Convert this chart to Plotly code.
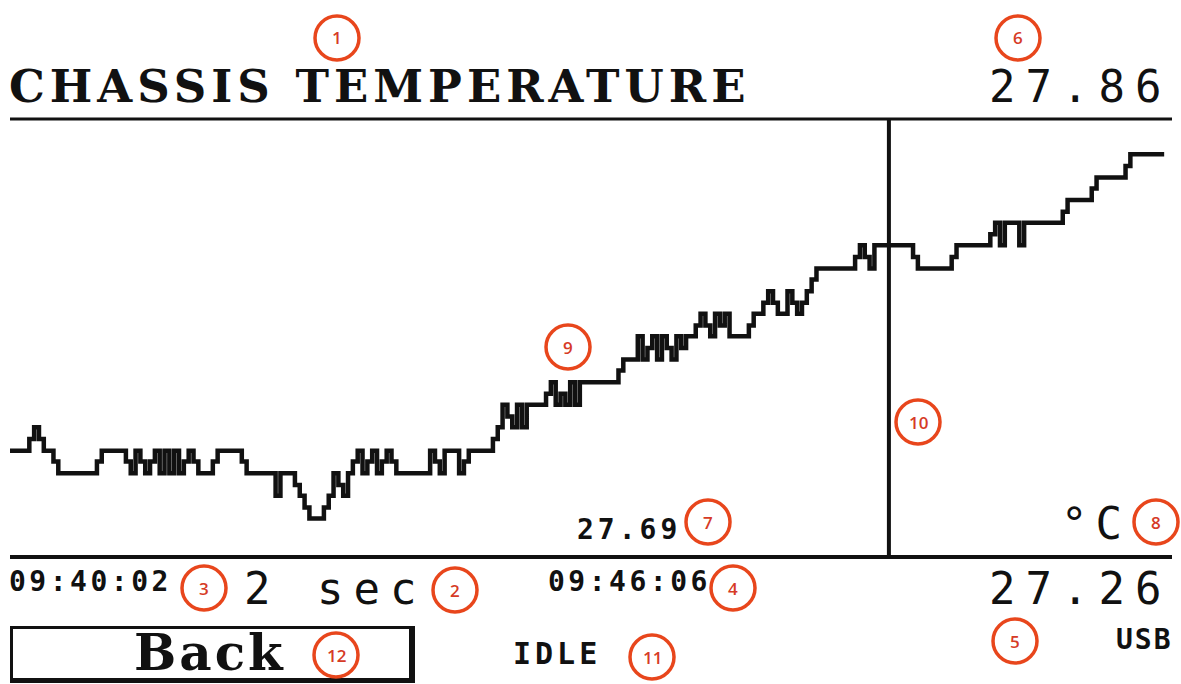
import plotly.graph_objects as go

# ---------------- data ----------------
# change points of the logged temperature (seconds since 09:40:02, sample every 2 s)
elapsed_s = [
    0, 8, 10, 12, 14, 18, 20, 36, 38, 48,
    50, 52, 54, 56, 58, 60, 62, 64, 66, 68,
    70, 72, 74, 76, 78, 84, 86, 96, 98, 110,
    112, 118, 120, 122, 124, 130, 132, 134, 136, 138,
    140, 142, 144, 146, 148, 150, 152, 154, 156, 158,
    160, 174, 176, 178, 180, 186, 188, 190, 200, 202,
    204, 206, 208, 210, 212, 214, 222, 224, 226, 228,
    230, 232, 234, 236, 252, 254, 260, 262, 264, 266,
    268, 270, 272, 274, 276, 278, 280, 284, 286, 288,
    290, 292, 294, 296, 298, 306, 308, 312, 314, 316,
    318, 322, 324, 326, 328, 330, 332, 334, 350, 352,
    354, 356, 358, 374, 376, 390, 392, 406, 408, 410,
    412, 418, 420, 436, 438, 448, 450, 462, 464, 478,
]
temps_c = [
    27.406, 27.422, 27.438, 27.422, 27.406, 27.391, 27.375, 27.391, 27.406, 27.391,
    27.375, 27.406, 27.391, 27.375, 27.391, 27.406, 27.375, 27.406, 27.375, 27.406,
    27.375, 27.391, 27.406, 27.391, 27.375, 27.391, 27.406, 27.391, 27.375, 27.344,
    27.375, 27.359, 27.344, 27.328, 27.313, 27.328, 27.344, 27.375, 27.359, 27.344,
    27.375, 27.391, 27.406, 27.375, 27.391, 27.406, 27.375, 27.391, 27.406, 27.391,
    27.375, 27.406, 27.391, 27.375, 27.406, 27.375, 27.391, 27.406, 27.422, 27.438,
    27.469, 27.453, 27.438, 27.469, 27.438, 27.469, 27.484, 27.500, 27.469, 27.484,
    27.469, 27.500, 27.469, 27.500, 27.516, 27.531, 27.563, 27.531, 27.547, 27.563,
    27.531, 27.563, 27.547, 27.531, 27.563, 27.547, 27.563, 27.578, 27.594, 27.578,
    27.563, 27.594, 27.578, 27.594, 27.563, 27.578, 27.594, 27.609, 27.625, 27.609,
    27.594, 27.625, 27.609, 27.594, 27.609, 27.625, 27.641, 27.656, 27.672, 27.688,
    27.672, 27.656, 27.688, 27.672, 27.656, 27.672, 27.688, 27.703, 27.719, 27.688,
    27.719, 27.688, 27.719, 27.734, 27.750, 27.766, 27.781, 27.797, 27.813, 27.813,
]

y_range = [27.26, 27.86]          # bottom / top of the graph window
x_range = [0, 480]                # 240 samples x 2 s
cursor_s = 364

title_text = "CHASSIS TEMPERATURE"
top_value = "27.86"
bottom_value = "27.26"
cursor_value = "27.69"
start_time = "09:40:02"
cursor_time = "09:46:06"
interval_text = "2 sec"
unit_text = "°C"
status_text = "IDLE"
port_text = "USB"
button_text = "Back"
callout_labels = ["1", "6", "9", "10", "7", "8", "3", "2", "4", "5", "11", "12"]

# ---------------- layout helpers ----------------
W, H = 1181, 684
L, R, T, B = 10, 1169, 120, 557


def px(xp):
    return (xp - L) / (R - L)


def py(yp):
    return (B - yp) / (B - T)


INK = "#111111"
RED = "#E8461C"
RED_TXT = "#D63B26"

fig = go.Figure(
    go.Scatter(
        x=elapsed_s, y=temps_c, mode="lines",
        line=dict(color=INK, width=4.5, shape="hv"),
        hoverinfo="skip",
    )
)

fig.update_layout(
    width=W, height=H, autosize=False,
    margin=dict(l=L, r=W - R, t=T, b=H - B, pad=0),
    paper_bgcolor="white", plot_bgcolor="white",
    showlegend=False,
    xaxis=dict(range=x_range, visible=False, fixedrange=True),
    yaxis=dict(range=y_range, visible=False, fixedrange=True),
)

shapes = [
    # frame lines
    dict(type="line", xref="paper", yref="paper", x0=px(10), x1=px(1172),
         y0=py(119), y1=py(119), line=dict(color=INK, width=3)),
    dict(type="line", xref="paper", yref="paper", x0=px(10), x1=px(1172),
         y0=py(557), y1=py(557), line=dict(color=INK, width=4)),
    # cursor
    dict(type="line", xref="x", yref="paper", x0=cursor_s, x1=cursor_s,
         y0=py(557), y1=py(119), line=dict(color=INK, width=4)),
    # Back button (shadowed frame)
    dict(type="rect", xref="paper", yref="paper", x0=px(10), x1=px(415),
         y0=py(683), y1=py(626), line=dict(width=0), fillcolor=INK),
    dict(type="rect", xref="paper", yref="paper", x0=px(13), x1=px(409),
         y0=py(678), y1=py(629), line=dict(width=0), fillcolor="white"),
]

callout_pos = [(337, 38), (1018, 38), (568, 347), (918, 422), (708, 522), (1156, 522),
               (204, 588), (455, 590), (733, 588), (1015, 641), (652, 657), (336, 655)]
for (cx, cy) in callout_pos:
    shapes.append(dict(type="circle", xref="paper", yref="paper",
                       xsizemode="pixel", ysizemode="pixel",
                       xanchor=px(cx), yanchor=py(cy),
                       x0=-22, x1=22, y0=-22, y1=22,
                       line=dict(color=RED, width=3.5)))
fig.update_layout(shapes=shapes)

MONO = "DejaVu Sans Mono"
SERIF = "DejaVu Serif"


def sp(text, ls):
    return f'<span style="letter-spacing:{ls}px">{text}</span>'


def ann(text, x, y, xanchor, size, family, color=INK, bold=False, ls=0):
    t = sp(text, ls) if ls else text
    if bold:
        t = f"<b>{t}</b>"
    return dict(text=t, x=px(x), y=py(y), xref="paper", yref="paper",
                xanchor=xanchor, yanchor="middle", showarrow=False,
                borderpad=0, font=dict(family=family, size=size, color=color))


annotations = [
    ann(title_text, 8, 86, "left", 45, SERIF, bold=True, ls=5),
    ann(top_value, 1172, 86, "right", 44, MONO, ls=10),
    ann(start_time, 8, 581, "left", 28, MONO, bold=True, ls=3.5),
    ann(interval_text, 243, 588, "left", 44, MONO, ls=10),
    ann(cursor_time, 547, 581, "left", 28, MONO, bold=True, ls=3.5),
    ann(bottom_value, 1172, 588, "right", 44, MONO, ls=10),
    ann(cursor_value, 576, 529, "left", 28, MONO, bold=True, ls=4),
    ann(unit_text, 1060, 523, "left", 44, MONO, ls=8),
    ann(port_text, 1174, 639, "right", 28, MONO, bold=True, ls=2),
    ann(status_text, 512, 653, "left", 30, MONO, bold=True, ls=4),
    ann(button_text, 133, 652, "left", 50, SERIF, bold=True, ls=3),
]
for lab, (cx, cy) in zip(callout_labels, callout_pos):
    annotations.append(dict(text=lab, x=px(cx), y=py(cy), xref="paper", yref="paper",
                            xanchor="center", yanchor="middle", showarrow=False,
                            font=dict(family="Open Sans", size=17, weight=600,
                                      color=RED_TXT)))
fig.update_layout(annotations=annotations)

fig.write_html("out.html", config={"displayModeBar": False, "staticPlot": True},
               post_script="document.body.style.margin='0';")
